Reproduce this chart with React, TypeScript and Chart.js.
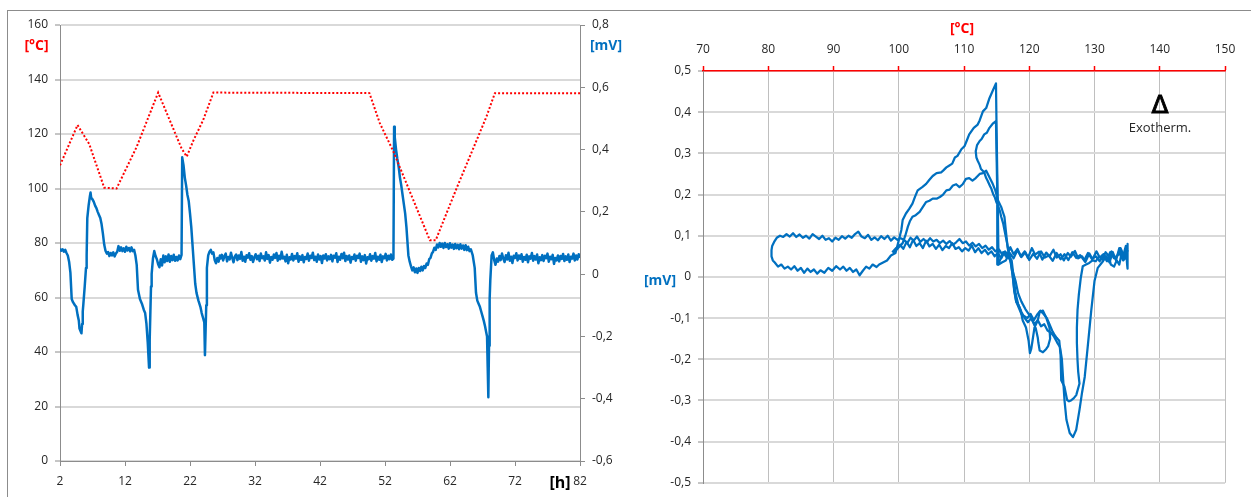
import React, { useEffect, useRef } from 'react';
import { Chart, registerables } from 'chart.js';

Chart.register(...registerables);

// ---------------- Left chart: time series ----------------
const hourTicks = [2, 12, 22, 32, 42, 52, 62, 72, 82];
const hourTickLabels = ['2', '12', '22', '32', '42', '52', '62', '72', '82'];
const tempTicks = [0, 20, 40, 60, 80, 100, 120, 140, 160];
const tempTickLabels = ['0', '20', '40', '60', '80', '100', '120', '140', '160'];
const signalTicks = [-0.6, -0.4, -0.2, 0, 0.2, 0.4, 0.6, 0.8];
const signalTickLabels = ['-0,6', '-0,4', '-0,2', '0', '0,2', '0,4', '0,6', '0,8'];

// [hour, °C]
const ovenTemperature: [number, number][] = [
  [2, 108.5], [4.7, 123.3], [6.5, 116.3], [8.8, 100.3], [10.7, 100], [13.8, 115.3],
  [17.1, 135.2], [20.7, 114.7], [21.5, 111.7], [22.5, 117.5], [24, 125], [25.6, 135.2],
  [49.6, 135], [51.2, 124], [53.3, 113.5], [58.9, 81], [59.8, 81], [63, 100],
  [67.6, 126.3], [68.9, 135], [82, 135],
];

// [hour, mV]
const signalCycles: [number, number][] = [
  [2.0, 0.082], [2.2, 0.075], [2.4, 0.080], [2.6, 0.072], [2.8, 0.078], [3.0, 0.068], [3.2, 0.060],
  [3.4, 0.040], [3.6, 0.005], [3.8, -0.080], [4.0, -0.090], [4.3, -0.100], [4.5, -0.105],
  [4.7, -0.130], [4.9, -0.150], [5.0, -0.175], [5.2, -0.185], [5.3, -0.190], [5.4, -0.160],
  [5.5, -0.120], [5.6, -0.095], [5.8, -0.040], [6.0, 0.020], [6.1, 0.060], [6.2, 0.180],
  [6.4, 0.220], [6.6, 0.250], [6.7, 0.262], [6.8, 0.245], [7.0, 0.240], [7.2, 0.232],
  [7.4, 0.220], [7.6, 0.212], [7.8, 0.200], [8.0, 0.190], [8.2, 0.180], [8.4, 0.160],
  [8.6, 0.130], [8.8, 0.095], [9.0, 0.075], [9.2, 0.066], [9.4, 0.071], [9.6, 0.058],
  [9.8, 0.068], [10.0, 0.060], [10.2, 0.070], [10.4, 0.057], [10.6, 0.066], [10.8, 0.072],
  [11.0, 0.090], [11.2, 0.075], [11.4, 0.086], [11.6, 0.074], [11.8, 0.083], [12.0, 0.072],
  [12.2, 0.088], [12.4, 0.076], [12.6, 0.084], [12.8, 0.073], [13.0, 0.086], [13.2, 0.074],
  [13.4, 0.078], [13.6, 0.060], [13.8, 0.030], [14.0, -0.050], [14.3, -0.080], [14.6, -0.095],
  [14.9, -0.115], [15.1, -0.125], [15.3, -0.160], [15.5, -0.220], [15.7, -0.300], [15.8, -0.210],
  [16.0, -0.040], [16.1, 0.000], [16.3, 0.050], [16.5, 0.074], [16.7, 0.058], [16.9, 0.048],
  [17.1, 0.032], [17.3, 0.022], [17.5, 0.048], [17.7, 0.028], [17.9, 0.060], [18.1, 0.038],
  [18.3, 0.057], [18.5, 0.042], [18.7, 0.063], [18.9, 0.040], [19.1, 0.058], [19.3, 0.045],
  [19.5, 0.062], [19.7, 0.043], [19.9, 0.055], [20.1, 0.044], [20.3, 0.060], [20.5, 0.048],
  [20.7, 0.062], [20.8, 0.375], [21.0, 0.350], [21.2, 0.310], [21.4, 0.285], [21.6, 0.255],
  [21.8, 0.235], [22.0, 0.195], [22.2, 0.150], [22.4, 0.090], [22.6, 0.030], [22.8, -0.030],
  [23.0, -0.060], [23.3, -0.085], [23.6, -0.105], [23.8, -0.125], [24.0, -0.140], [24.2, -0.155],
  [24.3, -0.260], [24.4, -0.180], [24.5, -0.100], [24.6, 0.020], [24.8, 0.060], [25.0, 0.072],
  [25.2, 0.078], [25.4, 0.066], [25.6, 0.070], [25.8, 0.045], [26.0, 0.035], [26.2, 0.052],
  [26.4, 0.040], [26.6, 0.060],
];

const signalHold: [number, number][] = [
  [26.7, 0.050], [26.9, 0.062], [27.1, 0.044], [27.3, 0.058], [27.5, 0.066], [27.7, 0.041],
  [27.9, 0.055], [28.1, 0.047], [28.3, 0.069], [28.5, 0.052], [28.7, 0.038], [28.9, 0.057],
  [29.1, 0.063], [29.3, 0.045], [29.5, 0.060], [29.7, 0.049], [29.9, 0.071], [30.1, 0.043],
  [30.3, 0.056], [30.5, 0.040], [30.7, 0.061], [30.9, 0.053], [31.1, 0.067], [31.3, 0.046],
  [31.5, 0.058], [31.7, 0.039], [31.9, 0.054], [32.1, 0.064], [32.3, 0.048], [32.5, 0.059],
  [32.7, 0.042], [32.9, 0.066], [33.1, 0.051], [33.3, 0.057], [33.5, 0.044], [33.7, 0.070],
  [33.9, 0.049], [34.1, 0.061], [34.3, 0.037], [34.5, 0.055], [34.7, 0.046], [34.9, 0.063],
  [35.1, 0.052], [35.3, 0.068], [35.5, 0.043], [35.7, 0.059], [35.9, 0.048], [36.1, 0.072],
  [36.3, 0.050], [36.5, 0.056], [36.7, 0.041], [36.9, 0.062], [37.1, 0.035], [37.3, 0.054],
  [37.5, 0.047], [37.7, 0.065], [37.9, 0.044], [38.1, 0.058], [38.3, 0.050], [38.5, 0.067],
  [38.7, 0.040], [38.9, 0.057], [39.1, 0.046], [39.3, 0.061], [39.5, 0.038], [39.7, 0.055],
  [39.9, 0.049], [40.1, 0.066], [40.3, 0.043], [40.5, 0.059], [40.7, 0.052], [40.9, 0.069],
  [41.1, 0.045], [41.3, 0.056], [41.5, 0.040], [41.7, 0.063], [41.9, 0.047], [42.1, 0.058],
  [42.3, 0.036], [42.5, 0.060], [42.7, 0.050], [42.9, 0.064], [43.1, 0.044], [43.3, 0.057],
  [43.5, 0.048], [43.7, 0.062], [43.9, 0.041], [44.1, 0.059], [44.3, 0.053], [44.5, 0.067],
  [44.7, 0.039], [44.9, 0.056], [45.1, 0.046], [45.3, 0.065], [45.5, 0.051], [45.7, 0.069],
  [45.9, 0.042], [46.1, 0.058], [46.3, 0.047], [46.5, 0.060], [46.7, 0.037], [46.9, 0.055],
  [47.1, 0.049], [47.3, 0.063], [47.5, 0.043], [47.7, 0.059], [47.9, 0.052], [48.1, 0.066],
  [48.3, 0.040], [48.5, 0.057], [48.7, 0.045], [48.9, 0.061], [49.1, 0.034], [49.3, 0.054],
  [49.5, 0.048], [49.7, 0.064], [49.9, 0.043], [50.1, 0.058], [50.3, 0.050], [50.5, 0.068],
  [50.7, 0.041], [50.9, 0.056], [51.1, 0.046], [51.3, 0.062], [51.5, 0.039], [51.7, 0.057],
  [51.9, 0.051], [52.1, 0.065], [52.3, 0.044], [52.5, 0.059], [52.7, 0.048], [52.9, 0.063],
  [53.1, 0.046],
];

const signalLastCycle: [number, number][] = [
  [53.3, 0.050], [53.4, 0.473], [53.5, 0.440], [53.7, 0.400], [53.9, 0.370], [54.1, 0.345],
  [54.3, 0.310], [54.5, 0.285], [54.7, 0.255], [54.9, 0.225], [55.1, 0.195], [55.3, 0.150],
  [55.5, 0.090], [55.6, 0.060], [55.8, 0.040], [56.0, 0.025], [56.2, 0.012], [56.4, 0.022],
  [56.6, 0.006], [56.8, 0.018], [57.0, 0.004], [57.2, 0.020], [57.4, 0.010], [57.6, 0.024],
  [57.8, 0.012], [58.0, 0.026], [58.2, 0.020], [58.4, 0.034], [58.6, 0.030], [58.8, 0.048],
  [59.0, 0.052], [59.2, 0.066], [59.4, 0.072], [59.6, 0.085], [59.8, 0.078], [60.0, 0.095],
  [60.2, 0.086], [60.4, 0.100], [60.6, 0.088], [60.8, 0.098], [61.0, 0.084], [61.2, 0.100],
  [61.4, 0.087], [61.6, 0.096], [61.8, 0.082], [62.0, 0.099], [62.2, 0.085], [62.4, 0.095],
  [62.6, 0.081], [62.8, 0.097], [63.0, 0.083], [63.2, 0.094], [63.4, 0.080], [63.6, 0.096],
  [63.8, 0.082], [64.0, 0.092], [64.2, 0.078], [64.4, 0.093], [64.6, 0.077], [64.8, 0.088],
  [65.0, 0.074], [65.2, 0.080], [65.5, 0.060], [65.8, 0.020], [66.0, -0.060], [66.2, -0.085],
  [66.4, -0.095], [66.6, -0.105], [66.8, -0.120], [67.0, -0.135], [67.2, -0.150], [67.4, -0.168],
  [67.6, -0.190], [67.7, -0.200], [67.8, -0.300], [67.9, -0.395], [68.0, -0.230], [68.1, -0.080],
  [68.2, -0.020], [68.4, 0.060], [68.6, 0.070], [68.8, 0.045], [69.0, 0.030], [69.2, 0.050],
];

const signalTail: [number, number][] = [
  [69.4, 0.040], [69.6, 0.058], [69.8, 0.045], [70.0, 0.066], [70.2, 0.050], [70.4, 0.039],
  [70.6, 0.061], [70.8, 0.047], [71.0, 0.069], [71.2, 0.043], [71.4, 0.056], [71.6, 0.036],
  [71.8, 0.059], [72.0, 0.052], [72.2, 0.067], [72.4, 0.044], [72.6, 0.060], [72.8, 0.049],
  [73.0, 0.064], [73.2, 0.040], [73.4, 0.055], [73.6, 0.046], [73.8, 0.062], [74.0, 0.038],
  [74.2, 0.057], [74.4, 0.050], [74.6, 0.068], [74.8, 0.043], [75.0, 0.058], [75.2, 0.047],
  [75.4, 0.063], [75.6, 0.035], [75.8, 0.054], [76.0, 0.045], [76.2, 0.061], [76.4, 0.042],
  [76.6, 0.059], [76.8, 0.051], [77.0, 0.066], [77.2, 0.040], [77.4, 0.056], [77.6, 0.048],
  [77.8, 0.062], [78.0, 0.033], [78.2, 0.052], [78.4, 0.044], [78.6, 0.060], [78.8, 0.041],
  [79.0, 0.058], [79.2, 0.049], [79.4, 0.065], [79.6, 0.042], [79.8, 0.057], [80.0, 0.046],
  [80.2, 0.063], [80.4, 0.039], [80.6, 0.056], [80.8, 0.050], [81.0, 0.066], [81.2, 0.044],
  [81.4, 0.060], [81.6, 0.047], [81.8, 0.064], [82.0, 0.052],
];

// ---------------- Right chart: mV vs °C ----------------
const dscTempTicks = [70, 80, 90, 100, 110, 120, 130, 140, 150];
const dscTempTickLabels = ['70', '80', '90', '100', '110', '120', '130', '140', '150'];
const dscMvTicks = [-0.5, -0.4, -0.3, -0.2, -0.1, 0, 0.1, 0.2, 0.3, 0.4, 0.5];
const dscMvTickLabels = ['-0,5', '-0,4', '-0,3', '-0,2', '-0,1', '0', '0,1', '0,2', '0,3', '0,4', '0,5'];

// [°C, mV]
const dscCurveA: [number, number][] = [
  [135.0, 0.052], [134.4, 0.040], [133.8, 0.058], [133.2, 0.045], [132.6, 0.062], [132.0, 0.042],
  [131.4, 0.055], [130.8, 0.038], [130.2, 0.050], [129.6, 0.044], [129.0, 0.058], [128.4, 0.040],
  [127.8, 0.053], [127.2, 0.046], [126.6, 0.060], [126.0, 0.041], [125.4, 0.055], [124.8, 0.043],
  [124.2, 0.058], [123.6, 0.039], [123.0, 0.052], [122.4, 0.047], [121.8, 0.062], [121.2, 0.044],
  [120.6, 0.056], [120.0, 0.041], [119.4, 0.060], [118.8, 0.048], [118.2, 0.065], [117.6, 0.045],
  [117.0, 0.058], [116.4, 0.040], [115.8, 0.035], [115.3, 0.030], [115.2, 0.150], [115.0, 0.350],
  [114.9, 0.470], [114.4, 0.452], [113.9, 0.434], [113.4, 0.410], [112.9, 0.402], [112.4, 0.380],
  [112.1, 0.370], [111.5, 0.362], [110.8, 0.346], [110.4, 0.330], [110.1, 0.318], [109.6, 0.310],
  [109.0, 0.294], [108.6, 0.290], [108.2, 0.275], [107.7, 0.270], [107.3, 0.266], [106.8, 0.258],
  [106.5, 0.254], [105.8, 0.252], [105.2, 0.245], [104.7, 0.236], [104.2, 0.226], [103.6, 0.218],
  [102.9, 0.210], [102.5, 0.195], [102.1, 0.178], [101.6, 0.165], [101.1, 0.154], [100.6, 0.138],
  [100.4, 0.114], [100.1, 0.095], [99.9, 0.082],
  [99.5, 0.058], [98.8, 0.052], [98.2, 0.040], [97.6, 0.035], [97.0, 0.030], [96.6, 0.024],
  [96.0, 0.030], [95.5, 0.020], [95.0, 0.025], [94.5, 0.015], [94.0, 0.004], [93.5, 0.018],
  [93.0, 0.012], [92.5, 0.022], [92.0, 0.015], [91.5, 0.025], [91.0, 0.018], [90.4, 0.026],
  [89.8, 0.015], [89.2, 0.022], [88.6, 0.010], [88.0, 0.016], [87.5, 0.008], [87.0, 0.018],
  [86.5, 0.012], [86.0, 0.020], [85.5, 0.010], [85.0, 0.022], [84.5, 0.015], [84.0, 0.026],
  [83.5, 0.018], [83.0, 0.025], [82.5, 0.020], [82.0, 0.030], [81.5, 0.025], [81.0, 0.035],
  [80.7, 0.040], [80.5, 0.050], [80.5, 0.065], [80.6, 0.075], [80.9, 0.085], [81.3, 0.095],
  [81.8, 0.100], [82.3, 0.097], [82.8, 0.104], [83.3, 0.098], [83.8, 0.106], [84.3, 0.097],
  [84.8, 0.103], [85.3, 0.095], [85.8, 0.100], [86.3, 0.093], [86.8, 0.104], [87.3, 0.098],
  [87.8, 0.092], [88.3, 0.100], [88.8, 0.090], [89.3, 0.094], [89.8, 0.086], [90.3, 0.095],
  [90.8, 0.090], [91.3, 0.099], [91.8, 0.093], [92.3, 0.100], [92.8, 0.095], [93.3, 0.104],
  [93.8, 0.110], [94.3, 0.098], [94.8, 0.094], [95.3, 0.102], [95.8, 0.090], [96.3, 0.096],
  [96.8, 0.089], [97.3, 0.099], [97.8, 0.092], [98.3, 0.100], [98.8, 0.088], [99.3, 0.096],
  [99.8, 0.090], [100.3, 0.094],
  [100.8, 0.090], [101.3, 0.082], [101.8, 0.095], [102.3, 0.088], [102.8, 0.098], [103.3, 0.085],
  [103.8, 0.092], [104.3, 0.084], [104.8, 0.094], [105.3, 0.086], [105.8, 0.090], [106.3, 0.082],
  [106.8, 0.088], [107.3, 0.080], [107.8, 0.087], [108.3, 0.078], [108.8, 0.084], [109.3, 0.092],
  [109.8, 0.082], [110.3, 0.086], [110.8, 0.076], [111.3, 0.083], [111.8, 0.074], [112.3, 0.080],
  [112.8, 0.070], [113.3, 0.076], [113.8, 0.066], [114.3, 0.072], [114.8, 0.062], [115.3, 0.068],
  [115.8, 0.056], [116.3, 0.062], [116.8, 0.052],
  [117.3, 0.040], [117.6, 0.000], [117.9, -0.040], [118.3, -0.066], [118.8, -0.085], [119.3, -0.100],
  [119.8, -0.110], [120.3, -0.100], [120.8, -0.115], [121.3, -0.105], [121.8, -0.120], [122.3, -0.115],
  [122.8, -0.130], [123.3, -0.135], [123.8, -0.145], [124.3, -0.160], [124.7, -0.170], [125.0, -0.200],
  [125.2, -0.250], [125.4, -0.299], [125.7, -0.347], [126.2, -0.379], [126.7, -0.389], [127.2, -0.371],
  [127.7, -0.323], [128.1, -0.280], [128.5, -0.243], [129.0, -0.163], [129.5, -0.082], [130.0, -0.010],
  [130.5, 0.022], [131.3, 0.038], [131.8, 0.050], [132.3, 0.035], [132.8, 0.060], [133.3, 0.040],
  [133.8, 0.070], [134.3, 0.045], [134.8, 0.075], [135.0, 0.030], [135.1, 0.080], [135.0, 0.020],
  [135.1, 0.070],
];

const dscCurveB: [number, number][] = [
  [135.1, 0.065], [134.6, 0.048], [134.0, 0.070], [133.5, 0.052], [133.0, 0.045], [132.4, 0.060],
  [131.9, 0.038], [131.3, 0.054], [130.8, 0.047], [130.3, 0.062], [129.7, 0.043], [129.2, 0.057],
  [128.6, 0.036], [128.1, 0.050], [127.5, 0.045], [127.0, 0.063], [126.4, 0.049], [125.9, 0.058],
  [125.3, 0.040], [124.8, 0.055], [124.2, 0.047], [123.7, 0.066], [123.1, 0.050], [122.6, 0.059],
  [122.0, 0.042], [121.5, 0.061], [120.9, 0.054], [120.4, 0.070], [119.8, 0.046], [119.3, 0.062],
  [118.7, 0.050], [118.2, 0.068], [117.6, 0.055], [117.1, 0.072], [116.5, 0.048], [116.0, 0.060],
  [115.5, 0.040], [115.2, 0.030], [115.1, 0.200], [114.9, 0.378],
  [114.4, 0.372], [113.9, 0.362], [113.5, 0.350], [113.1, 0.346], [112.7, 0.335], [112.4, 0.330],
  [112.0, 0.320], [111.8, 0.305], [111.9, 0.290], [112.1, 0.282], [112.4, 0.272], [112.6, 0.262],
  [113.1, 0.254], [113.4, 0.240], [113.6, 0.234], [114.0, 0.220], [114.2, 0.214], [114.5, 0.200],
  [114.7, 0.194], [115.0, 0.180], [115.2, 0.174], [115.5, 0.160], [115.7, 0.146], [116.0, 0.130],
  [116.2, 0.114], [116.5, 0.090], [116.7, 0.074], [117.0, 0.050], [117.2, 0.034], [117.5, 0.000],
  [117.7, -0.035], [118.0, -0.060], [118.4, -0.075], [118.8, -0.090], [119.2, -0.095], [119.7, -0.100],
  [120.2, -0.090], [120.7, -0.105], [121.2, -0.092], [121.7, -0.082], [122.2, -0.090], [122.7, -0.100],
  [123.1, -0.115], [123.5, -0.130], [123.8, -0.139], [124.2, -0.148], [124.6, -0.155], [124.8, -0.190],
  [124.9, -0.251], [125.4, -0.267], [125.8, -0.299], [126.1, -0.302], [126.4, -0.300], [126.8, -0.295],
  [127.2, -0.287], [127.7, -0.259], [127.5, -0.230], [127.4, -0.203], [127.3, -0.160], [127.3, -0.123],
  [127.4, -0.080], [127.6, -0.043], [127.9, -0.002], [128.2, 0.026], [128.7, 0.030], [129.2, 0.034],
  [129.7, 0.040], [130.2, 0.038], [130.7, 0.050], [131.2, 0.042], [131.7, 0.060], [132.2, 0.050],
  [132.5, 0.030], [133.0, 0.025], [133.4, 0.040], [133.8, 0.030], [134.2, 0.060], [134.6, 0.045],
  [135.0, 0.070],
];

const dscCurveC: [number, number][] = [
  [99.0, 0.060], [99.6, 0.070], [100.2, 0.078], [100.7, 0.068], [101.2, 0.085], [101.7, 0.072],
  [102.2, 0.090], [102.7, 0.075], [103.2, 0.082], [103.7, 0.070], [104.2, 0.088], [104.7, 0.074],
  [105.2, 0.080], [105.7, 0.068], [106.2, 0.078], [106.7, 0.065], [107.2, 0.075], [107.7, 0.070],
  [108.2, 0.082], [108.7, 0.068], [109.2, 0.072], [109.7, 0.062], [110.2, 0.070], [110.7, 0.064],
  [111.2, 0.076], [111.7, 0.060], [112.2, 0.070], [112.7, 0.058], [113.2, 0.066], [113.7, 0.055],
  [114.2, 0.062], [114.7, 0.050], [115.2, 0.058], [115.7, 0.045], [116.2, 0.060], [116.7, 0.050],
  [117.1, 0.040], [117.4, 0.010], [117.7, -0.030], [118.0, -0.060], [118.4, -0.070], [118.7, -0.082],
  [119.0, -0.106], [119.5, -0.123], [119.9, -0.155], [120.1, -0.185], [120.3, -0.175], [120.5, -0.155],
  [120.8, -0.123], [121.3, -0.106], [121.6, -0.085], [122.1, -0.082], [122.6, -0.099], [123.1, -0.123],
  [123.2, -0.150], [122.9, -0.168], [122.6, -0.175], [122.1, -0.183], [121.6, -0.179], [121.4, -0.160],
  [121.3, -0.147], [121.0, -0.125], [120.6, -0.110], [120.0, -0.092], [119.4, -0.078], [118.8, -0.060],
  [118.3, -0.040], [117.9, -0.010], [117.4, 0.017], [117.0, 0.045], [116.7, 0.070], [116.4, 0.114],
  [116.2, 0.146], [115.9, 0.160], [115.7, 0.170], [115.2, 0.186], [114.8, 0.210], [114.4, 0.226],
  [113.9, 0.242], [113.4, 0.258], [112.9, 0.252], [112.4, 0.250], [111.8, 0.240], [111.3, 0.234],
  [110.8, 0.240], [110.3, 0.238], [109.8, 0.225], [109.3, 0.218], [108.8, 0.225], [108.3, 0.222],
  [107.8, 0.212], [107.3, 0.210], [106.8, 0.200], [106.3, 0.194], [105.8, 0.190], [105.2, 0.190],
  [104.7, 0.185], [104.2, 0.182], [103.7, 0.170], [103.2, 0.158], [102.6, 0.150], [102.1, 0.146],
  [101.7, 0.135], [101.4, 0.122], [101.0, 0.100], [100.6, 0.082], [99.9, 0.070], [99.1, 0.058],
];

// ---------------- styling ----------------
const FONT = '"Open Sans", sans-serif';
const TICK_COLOR = '#262626';
const AXIS_GRAY = '#8C8C8C';
const GRID_LIGHT = '#D9D9D9';
const BLUE = '#0070C0';
const RED = '#FF0000';

const toXY = (pts: [number, number][]) => pts.map(([x, y]) => ({ x, y }));
const fixTicks = (values: number[]) => (scale: any) => {
  scale.ticks = values.map((v) => ({ value: v }));
};
const tickFont = { family: FONT, size: 12 };

function LeftChart() {
  const ref = useRef<HTMLCanvasElement>(null);
  useEffect(() => {
    if (!ref.current) return;
    const chart = new Chart(ref.current, {
      type: 'scatter',
      data: {
        datasets: [
          {
            data: toXY(ovenTemperature),
            yAxisID: 'y',
            showLine: true,
            borderColor: RED,
            borderWidth: 2,
            borderDash: [2, 2],
            pointRadius: 0,
            tension: 0,
          },
          {
            data: toXY([...signalCycles, ...signalHold, ...signalLastCycle, ...signalTail]),
            yAxisID: 'y1',
            showLine: true,
            borderColor: BLUE,
            borderWidth: 2.5,
            pointRadius: 0,
            tension: 0,
            borderJoinStyle: 'round',
          },
        ],
      },
      options: {
        animation: false,
        responsive: false,
        events: [],
        layout: { padding: { top: 25, left: 0, right: 0, bottom: 0 } },
        plugins: { legend: { display: false }, tooltip: { enabled: false } },
        scales: {
          x: {
            type: 'linear',
            position: 'bottom',
            min: 2,
            max: 82,
            afterBuildTicks: fixTicks(hourTicks),
            afterFit: (s: any) => { s.height = 36; },
            grid: { drawOnChartArea: false, drawTicks: true, tickLength: 5, tickColor: AXIS_GRAY, tickWidth: 1 },
            border: { color: AXIS_GRAY, width: 1 },
            ticks: {
              padding: 8, font: tickFont, color: TICK_COLOR, maxRotation: 0, autoSkip: false,
              callback: (_v: any, i: number) => hourTickLabels[i],
            },
          },
          y: {
            type: 'linear',
            position: 'left',
            min: 0,
            max: 160,
            afterBuildTicks: fixTicks(tempTicks),
            afterFit: (s: any) => { s.width = 60; },
            grid: { color: GRID_LIGHT, lineWidth: 2, tickLength: 5, tickColor: AXIS_GRAY, tickWidth: 1 },
            border: { color: AXIS_GRAY, width: 1 },
            ticks: {
              padding: 7, font: tickFont, color: TICK_COLOR, autoSkip: false,
              callback: (_v: any, i: number) => tempTickLabels[i],
            },
          },
          y1: {
            type: 'linear',
            position: 'right',
            min: -0.6,
            max: 0.8,
            afterBuildTicks: fixTicks(signalTicks),
            afterFit: (s: any) => { s.width = 50; },
            grid: { drawOnChartArea: false, tickLength: 5, tickColor: AXIS_GRAY, tickWidth: 1 },
            border: { color: AXIS_GRAY, width: 1 },
            ticks: {
              padding: 7, font: tickFont, color: TICK_COLOR, autoSkip: false,
              callback: (_v: any, i: number) => signalTickLabels[i],
            },
          },
        },
      } as any,
    });
    return () => chart.destroy();
  }, []);
  return <canvas ref={ref} width={630} height={497} style={{ position: 'absolute', left: 0, top: 0 }} />;
}

function RightChart() {
  const ref = useRef<HTMLCanvasElement>(null);
  useEffect(() => {
    if (!ref.current) return;
    const curveStyle = {
      showLine: true,
      borderColor: BLUE,
      borderWidth: 2.25,
      pointRadius: 0,
      tension: 0,
      borderJoinStyle: 'round' as const,
    };
    const chart = new Chart(ref.current, {
      type: 'scatter',
      data: {
        datasets: [
          { data: toXY(dscCurveA), ...curveStyle },
          { data: toXY(dscCurveB), ...curveStyle },
          { data: toXY(dscCurveC), ...curveStyle },
        ],
      },
      options: {
        animation: false,
        responsive: false,
        events: [],
        layout: { padding: { top: 0, left: 0, right: 26, bottom: 10 } },
        plugins: { legend: { display: false }, tooltip: { enabled: false } },
        scales: {
          x: {
            type: 'linear',
            position: 'top',
            min: 70,
            max: 150,
            afterBuildTicks: fixTicks(dscTempTicks),
            afterFit: (s: any) => { s.height = 71; },
            grid: { color: '#BFBFBF', lineWidth: 1, tickLength: 5, tickColor: RED, tickWidth: 1.5 },
            border: { color: RED, width: 1.5 },
            ticks: {
              padding: 9, font: tickFont, color: TICK_COLOR, maxRotation: 0, autoSkip: false,
              callback: (_v: any, i: number) => dscTempTickLabels[i],
            },
          },
          y: {
            type: 'linear',
            position: 'left',
            min: -0.5,
            max: 0.5,
            afterBuildTicks: fixTicks(dscMvTicks),
            afterFit: (s: any) => { s.width = 73; },
            grid: { color: GRID_LIGHT, lineWidth: 2, tickLength: 5, tickColor: AXIS_GRAY, tickWidth: 1 },
            border: { color: AXIS_GRAY, width: 1 },
            ticks: {
              padding: 7, font: tickFont, color: TICK_COLOR, autoSkip: false,
              callback: (_v: any, i: number) => dscMvTickLabels[i],
            },
          },
        },
      } as any,
    });
    return () => chart.destroy();
  }, []);
  return <canvas ref={ref} width={621} height={497} style={{ position: 'absolute', left: 630, top: 0 }} />;
}

type Label = {
  text: string; x: number; y: number; color: string; size: number;
  bold?: boolean; family?: string; stroke?: string;
};
const overlayLabels: Label[] = [
  { text: '[°C]', x: 36.5, y: 45, color: RED, size: 14, bold: true },
  { text: '[mV]', x: 606, y: 45, color: BLUE, size: 14, bold: true },
  { text: '[h]', x: 560, y: 482, color: '#000000', size: 16, bold: true },
  { text: '[°C]', x: 962, y: 28, color: RED, size: 14, bold: true },
  { text: '[mV]', x: 660, y: 280, color: BLUE, size: 14, bold: true },
  { text: 'Δ', x: 1160, y: 104, color: '#000000', size: 25, family: '"DejaVu Sans", sans-serif', stroke: '0.9px #000000' },
  { text: 'Exotherm.', x: 1160, y: 127, color: TICK_COLOR, size: 13 },
];

export default function App() {
  return (
    <div style={{ position: 'fixed', left: 0, top: 0, width: 1251, height: 497, background: '#fff', overflow: 'hidden', fontFamily: FONT }}>
      <LeftChart />
      <RightChart />
      <div style={{ position: 'absolute', left: 7, top: 10, width: 1244, height: 0, borderTop: '1.5px solid #8C8C8C' }} />
      <div style={{ position: 'absolute', left: 7, top: 10, width: 0, height: 487, borderLeft: '1.5px solid #8C8C8C' }} />
      {overlayLabels.map((l, i) => (
        <div
          key={i}
          style={{
            position: 'absolute', left: l.x, top: l.y, transform: 'translate(-50%, -50%)',
            color: l.color, fontSize: l.size, fontWeight: l.bold ? 700 : 400, lineHeight: 1,
            whiteSpace: 'nowrap', fontFamily: l.family || FONT,
            WebkitTextStroke: l.stroke,
          }}
        >
          {l.text}
        </div>
      ))}
    </div>
  );
}
